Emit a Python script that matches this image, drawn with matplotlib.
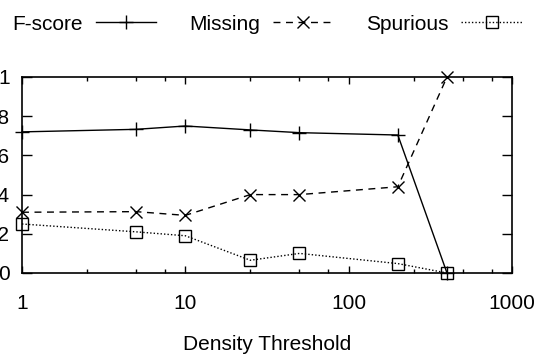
import numpy as np
import matplotlib.pyplot as plt
from matplotlib.ticker import FixedLocator, NullFormatter

plt.rcParams['font.family'] = ['Liberation Sans', 'DejaVu Sans']

# data
threshold = [1, 5, 10, 25, 50, 200, 400]
fscore = [0.72, 0.733, 0.75, 0.73, 0.716, 0.704, 0.0]
missing = [0.31, 0.313, 0.294, 0.40, 0.40, 0.44, 1.0]
spurious = [0.25, 0.21, 0.19, 0.065, 0.10, 0.048, 0.0]

fig = plt.figure(figsize=(5.4, 3.56), dpi=100)
ax = fig.add_axes([22/540, 1-273/356, 490/540, 196/356])

kw = dict(color='black', lw=1.0, clip_on=False)
ax.plot(threshold, fscore, ls='-', marker='+', ms=10, mew=1.0, label='F-score', **kw)
ax.plot(threshold, missing, ls=(0, (5, 4)), marker='x', ms=8, mew=1.0, label='Missing', **kw)
ax.plot(threshold, spurious, ls=(0, (1, 1.5)), marker='s', ms=8, mew=1.0,
        mfc='none', label='Spurious', **kw)

ax.set_xscale('log')
ax.set_xlim(1, 1000)
ax.set_ylim(0, 1)
ax.set_xticks([1, 10, 100, 1000])
ax.set_xticklabels(['1', '10', '100', '1000'])
minors = [m * d for d in [1, 10, 100] for m in [2.5, 5, 7.5]]
ax.xaxis.set_minor_locator(FixedLocator(minors))
ax.xaxis.set_minor_formatter(NullFormatter())
ax.set_yticks([0, 0.2, 0.4, 0.6, 0.8, 1.0])
ax.set_yticklabels(['0', '0.2', '0.4', '0.6', '0.8', '1'])

ax.tick_params(axis='both', which='both', direction='in', top=True, right=True,
               labelsize=15, color='black', width=1.0)
ax.tick_params(axis='x', which='major', length=5, pad=15)
ax.tick_params(axis='x', which='minor', length=3)
ax.tick_params(axis='y', which='major', length=7.5, pad=9)
for s in ax.spines.values():
    s.set_linewidth(1.2)

ax.set_xlabel('Density Threshold', fontsize=15, labelpad=16)

fig.legend(loc='upper left', bbox_to_anchor=(0.0, 0.994), ncol=3, frameon=False,
           markerfirst=False, fontsize=15, handlelength=2.9, handletextpad=0.6,
           columnspacing=1.6, borderaxespad=0.2)

fig.savefig('out.png', dpi=100)
